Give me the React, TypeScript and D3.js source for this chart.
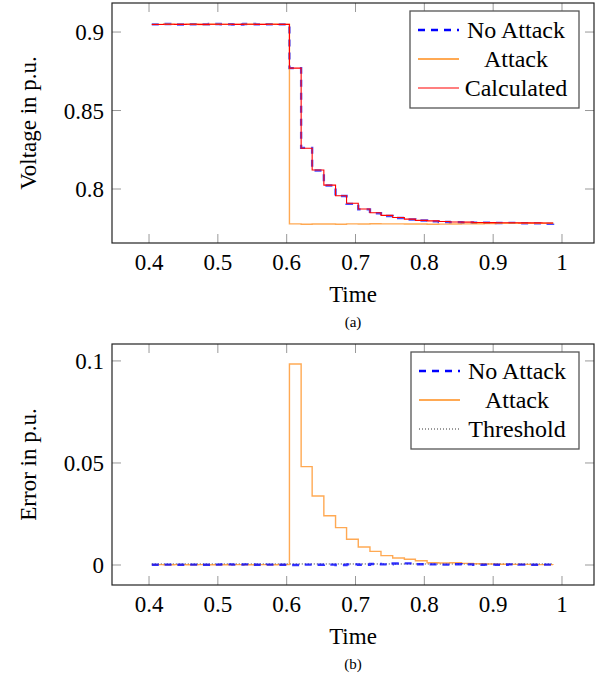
import React from 'react';
import * as d3 from 'd3';

// sample times (s)
const times = [0.404, 0.421, 0.437, 0.454, 0.471, 0.487, 0.504, 0.521, 0.537, 0.554, 0.571, 0.587,
  0.604, 0.621, 0.637, 0.654, 0.671, 0.687, 0.704, 0.721, 0.737, 0.754, 0.771, 0.787,
  0.804, 0.821, 0.837, 0.854, 0.871, 0.887, 0.904, 0.921, 0.937, 0.954, 0.971, 0.987];

const noAttackV = [0.9049, 0.9051, 0.9048, 0.9050, 0.9049, 0.9051, 0.9050, 0.9048, 0.9051, 0.9049, 0.9050, 0.9049,
  0.8770, 0.8262, 0.8118, 0.8022, 0.7955, 0.7905, 0.7870, 0.7846, 0.7828, 0.7815, 0.7806, 0.7799,
  0.7794, 0.7790, 0.7788, 0.7787, 0.7785, 0.7786, 0.7783, 0.7784, 0.7782, 0.7781, 0.7778, 0.7780];

const attackV = [0.9049, 0.9050, 0.9049, 0.9050, 0.9048, 0.9050, 0.9049, 0.9049, 0.9050, 0.9049, 0.9050, 0.9049,
  0.7778, 0.7775, 0.7777, 0.7777, 0.7775, 0.7778, 0.7777, 0.7779, 0.7778, 0.7778, 0.7777, 0.7777,
  0.7775, 0.7776, 0.7777, 0.7778, 0.7779, 0.7780, 0.7781, 0.7782, 0.7782, 0.7781, 0.7782, 0.7781];

const calculatedV = [0.9048, 0.9050, 0.9049, 0.9050, 0.9049, 0.9050, 0.9050, 0.9049, 0.9050, 0.9049, 0.9050, 0.9049,
  0.8770, 0.8260, 0.8121, 0.8025, 0.7957, 0.7909, 0.7873, 0.7849, 0.7832, 0.7818, 0.7808, 0.7800,
  0.7797, 0.7793, 0.7790, 0.7789, 0.7787, 0.7786, 0.7785, 0.7785, 0.7784, 0.7784, 0.7783, 0.7783];

const noAttackErr = [0.0001, 0.0002, 0.0001, 0.0002, 0.0001, 0.0002, 0.0003, 0.0002, 0.0003, 0.0001, 0.0002, 0.0001,
  0.0000, 0.0002, 0.0001, 0.0002, 0.0000, 0.0003, 0.0001, 0.0005, 0.0003, 0.0007, 0.0008, 0.0004,
  0.0003, 0.0002, 0.0004, 0.0003, 0.0001, 0.0002, 0.0001, 0.0003, 0.0002, 0.0001, 0.0002, 0.0001];

const attackErr = [0.0002, 0.0001, 0.0002, 0.0001, 0.0002, 0.0001, 0.0001, 0.0002, 0.0001, 0.0002, 0.0001, 0.0002,
  0.0985, 0.0482, 0.0338, 0.0241, 0.0183, 0.0126, 0.0088, 0.0067, 0.0046, 0.0034, 0.0028, 0.0021,
  0.0011, 0.0010, 0.0011, 0.0008, 0.0006, 0.0005, 0.0004, 0.0003, 0.0003, 0.0002, 0.0002, 0.0001];

const thresholdErr = [0.0005, 0.0005];
const thresholdTimes = [0.404, 0.987];

const xTicks = [0.4, 0.5, 0.6, 0.7, 0.8, 0.9, 1];
const vTicks = [0.8, 0.85, 0.9];
const eTicks = [0, 0.05, 0.1];

const FONT = 'Liberation Serif';
const W = 599, H = 680;
const left = 112, right = 594;

const fmt = (v: number) => String(v);

type Series = { xs: number[]; ys: number[]; stroke: string; width: number; dash?: string; opacity?: number };
type LegendItem = { label: string; stroke: string; width: number; dash?: string };

const Panel = ({ top, bottom, yDomain, yTicks, yLabel, series, legend, legendBox, caption }: {
  top: number; bottom: number; yDomain: [number, number]; yTicks: number[]; yLabel: string;
  series: Series[]; legend: LegendItem[]; legendBox: { x: number; y: number; w: number; h: number };
  caption: string;
}) => {
  const x = d3.scaleLinear().domain([0.3462, 1.0465]).range([left, right]);
  const y = d3.scaleLinear().domain(yDomain).range([bottom, top]);
  const tl = 9;
  return (
    <g>
      {series.map((s, i) => {
        const line = d3.line<number>()
          .x((_, j) => x(s.xs[j]))
          .y(d => y(d))
          .curve(d3.curveStepAfter);
        return <path key={i} d={line(s.ys) || ''} fill="none" stroke={s.stroke} strokeWidth={s.width}
          strokeDasharray={s.dash} opacity={s.opacity ?? 1} />;
      })}
      {xTicks.map(t => (
        <g key={'x' + t}>
          <line x1={x(t)} x2={x(t)} y1={bottom} y2={bottom - tl} stroke="#999" strokeWidth={1} />
          <line x1={x(t)} x2={x(t)} y1={top} y2={top + tl} stroke="#999" strokeWidth={1} />
          <text x={x(t)} y={bottom + 27} textAnchor="middle" fontSize={23} fontFamily={FONT}>{fmt(t)}</text>
        </g>
      ))}
      {yTicks.map(t => (
        <g key={'y' + t}>
          <line x1={left} x2={left + tl} y1={y(t)} y2={y(t)} stroke="#999" strokeWidth={1} />
          <line x1={right} x2={right - tl} y1={y(t)} y2={y(t)} stroke="#999" strokeWidth={1} />
          <text x={104} y={y(t) + 8} textAnchor="end" fontSize={23} fontFamily={FONT}>{fmt(t)}</text>
        </g>
      ))}
      <rect x={left} y={top} width={right - left} height={bottom - top} fill="none" stroke="#222" strokeWidth={1.2} />
      <text transform={`translate(36,${(top + bottom) / 2}) rotate(-90)`} textAnchor="middle" fontSize={23}
        fontFamily={FONT}>{yLabel}</text>
      <text x={(left + right) / 2} y={bottom + 59} textAnchor="middle" fontSize={23} fontFamily={FONT}>Time</text>
      <text x={(left + right) / 2} y={bottom + 84} textAnchor="middle" fontSize={15} fontFamily={FONT}>{caption}</text>
      <rect x={legendBox.x} y={legendBox.y} width={legendBox.w} height={legendBox.h} fill="#fff" stroke="#555"
        strokeWidth={1.3} />
      {legend.map((l, i) => {
        const cy = legendBox.y + 19 + i * 29;
        return (
          <g key={l.label}>
            <line x1={legendBox.x + 8} x2={legendBox.x + 49} y1={cy} y2={cy} stroke={l.stroke} strokeWidth={l.width}
              strokeDasharray={l.dash} />
            <text x={legendBox.x + 106} y={cy + 8} textAnchor="middle" fontSize={24} fontFamily={FONT}>{l.label}</text>
          </g>
        );
      })}
    </g>
  );
};

export default function App() {
  const blue = '#0000ff', orange = '#ff8c1a', red = '#ff0000';
  return (
    <svg width={W} height={H} style={{ position: 'absolute', left: 0, top: 0, background: '#fff' }}>
      <Panel top={3} bottom={243} yDomain={[0.7656, 0.9185]} yTicks={vTicks} yLabel="Voltage in p.u." caption="(a)"
        series={[
          { xs: times, ys: noAttackV, stroke: blue, width: 2.4, dash: '7,6', opacity: 0.7 },
          { xs: times, ys: attackV, stroke: orange, width: 1.4, opacity: 0.75 },
          { xs: times, ys: calculatedV, stroke: red, width: 1.1 },
        ]}
        legend={[
          { label: 'No Attack', stroke: blue, width: 2.4, dash: '7,6' },
          { label: 'Attack', stroke: orange, width: 1.4 },
          { label: 'Calculated', stroke: red, width: 1.1 },
        ]}
        legendBox={{ x: 410, y: 11, w: 169, h: 97 }}
      />
      <Panel top={344} bottom={585} yDomain={[-0.0098, 0.1083]} yTicks={eTicks} yLabel="Error in p.u." caption="(b)"
        series={[
          { xs: thresholdTimes, ys: thresholdErr, stroke: '#000', width: 0.8, dash: '1,2' },
          { xs: times, ys: attackErr, stroke: orange, width: 1.4, opacity: 0.75 },
          { xs: times, ys: noAttackErr, stroke: blue, width: 2.4, dash: '7,6', opacity: 0.8 },
        ]}
        legend={[
          { label: 'No Attack', stroke: blue, width: 2.4, dash: '7,6' },
          { label: 'Attack', stroke: orange, width: 1.4 },
          { label: 'Threshold', stroke: '#000', width: 0.8, dash: '1,2' },
        ]}
        legendBox={{ x: 411, y: 352, w: 168, h: 97 }}
      />
    </svg>
  );
}
